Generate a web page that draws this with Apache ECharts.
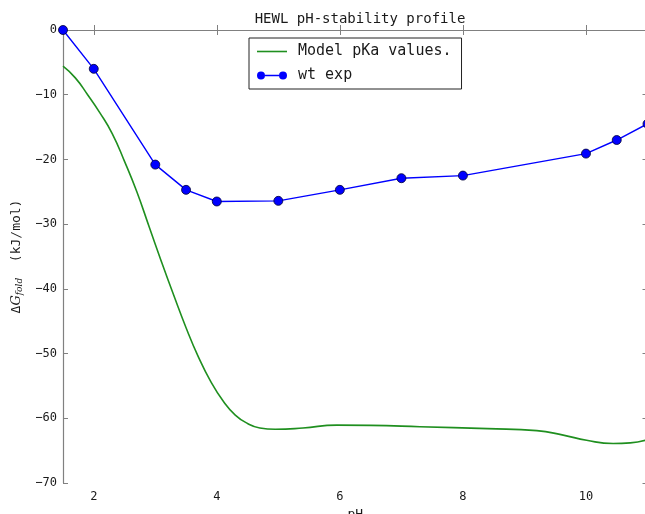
<!DOCTYPE html>
<html>
<head>
<meta charset="utf-8">
<script src="https://cdn.jsdelivr.net/npm/echarts@6/dist/echarts.min.js"></script>
<style>
  html, body { margin: 0; padding: 0; background: #fff; }
  #chart { width: 645px; height: 514px; }
</style>
</head>
<body>
<div id="chart"></div>
<script>
// wt exp measurements (pH, dG)
var expPH = [1.5, 2, 3, 3.5, 4, 5, 6, 7, 8, 10, 10.5, 11];
var expDG = [0, -6, -20.8, -24.7, -26.5, -26.4, -24.7, -22.9, -22.5, -19.1, -17.0, -14.5];

// model pKa curve
var modelPH = [1.5, 1.7, 1.9, 2.1, 2.3, 2.5, 2.7, 2.9, 3.1, 3.3, 3.5, 3.7, 3.9, 4.1, 4.3, 4.5, 4.7, 4.95, 5.4, 5.95, 6.5, 7.3, 8.4, 9.2, 9.63, 10.01, 10.44, 10.72, 11.0];
var modelDG = [-5.6, -7.4, -10.0, -12.8, -16.0, -20.3, -25.0, -30.4, -35.8, -41.0, -46.0, -50.5, -54.3, -57.3, -59.5, -60.8, -61.5, -61.7, -61.5, -61.05, -61.1, -61.3, -61.6, -61.9, -62.6, -63.4, -63.9, -63.8, -63.3];

var xTicks = [2, 4, 6, 8, 10];

var axisGray = '#808080';
var textColor = '#1a1a1a';
var mono = 'DejaVu Sans Mono';

// legend icons: plain line, and line with a marker at each end
var lineIcon = 'path://M0,0L30,0L30,1.6L0,1.6Z';
var markerLineIcon = 'path://M0,4A4,4 0 1,1 8,4A4,4 0 1,1 0,4ZM22,4A4,4 0 1,1 30,4A4,4 0 1,1 22,4ZM8,3.3L22,3.3L22,4.7L8,4.7Z';

function pairs(xs, ys) {
    var out = [];
    for (var i = 0; i < xs.length; i++) out.push([xs[i], ys[i]]);
    return out;
}

var chart = echarts.init(document.getElementById('chart'));

var option = {
    backgroundColor: '#fff',
    animation: false,
    title: {
        text: 'HEWL pH-stability profile',
        left: 355,
        textAlign: 'center',
        top: 7,
        textStyle: { fontFamily: mono, fontSize: 14, fontWeight: 'normal', color: textColor }
    },
    legend: {
        orient: 'vertical',
        left: 249,
        top: 38,
        width: 214,
        padding: [6, 10, 6, 8],
        itemGap: 9,
        itemWidth: 30,
        itemHeight: 14,
        borderColor: '#222',
        borderWidth: 1,
        backgroundColor: '#fff',
        textStyle: { fontFamily: mono, fontSize: 15, color: textColor, padding: [0, 0, 0, 6] },
        data: [
            { name: 'Model pKa values.', icon: lineIcon },
            {
                name: 'wt exp',
                icon: markerLineIcon,
                itemStyle: { color: '#0000ff', borderWidth: 0, opacity: 1 }
            }
        ]
    },
    grid: {
        left: 63,
        top: 30,
        width: 584.5,
        bottom: 31,
        containLabel: false,
        outerBoundsMode: 'none'
    },
    xAxis: [{
        type: 'value',
        min: 1.5,
        max: 11,
        name: 'pH',
        nameLocation: 'middle',
        nameGap: 20,
        nameTextStyle: { fontFamily: mono, fontSize: 13, color: textColor },
        axisLine: { lineStyle: { color: axisGray, width: 1.2 } },
        axisTick: { inside: true, length: 5, customValues: xTicks, lineStyle: { color: axisGray } },
        axisLabel: { customValues: xTicks, margin: 8, fontFamily: mono, fontSize: 12, color: textColor },
        splitLine: { show: false }
    }, {
        type: 'value',
        position: 'top',
        min: 1.5,
        max: 11,
        axisLine: { lineStyle: { color: axisGray, width: 1.2 } },
        axisTick: { inside: true, length: 5, customValues: xTicks, lineStyle: { color: axisGray } },
        axisLabel: { show: false },
        splitLine: { show: false }
    }],
    yAxis: [{
        type: 'value',
        min: -70,
        max: 0,
        interval: 10,
        name: '{d|Δ}{g|G}{s|fold}{d|  (kJ/mol)}',
        nameLocation: 'middle',
        nameGap: 30,
        nameTextStyle: {
            color: textColor,
            rich: {
                d: { fontFamily: mono, fontSize: 13, color: textColor },
                g: { fontFamily: 'DejaVu Serif', fontStyle: 'italic', fontSize: 13, color: textColor },
                s: { fontFamily: 'DejaVu Serif', fontStyle: 'italic', fontSize: 9, color: textColor, padding: [7, 0, 0, 0] }
            }
        },
        axisLine: { show: true, lineStyle: { color: axisGray, width: 1.2 } },
        axisTick: { show: true, inside: true, length: 5, lineStyle: { color: axisGray } },
        axisLabel: {
            margin: 6,
            fontFamily: mono,
            fontSize: 12,
            color: textColor,
            formatter: function (v) { return String(v).replace('-', '\u2212'); }
        },
        splitLine: { show: false }
    }, {
        type: 'value',
        position: 'right',
        min: -70,
        max: 0,
        interval: 10,
        axisLine: { show: true, lineStyle: { color: axisGray, width: 1.2 } },
        axisTick: { show: true, inside: true, length: 5, lineStyle: { color: axisGray } },
        axisLabel: { show: false },
        splitLine: { show: false }
    }],
    series: [{
        name: 'Model pKa values.',
        type: 'line',
        data: pairs(modelPH, modelDG),
        smooth: 0.5,
        showSymbol: false,
        symbol: 'none',
        lineStyle: { color: '#1f8f1f', width: 1.6 },
        itemStyle: { color: '#1f8f1f' }
    }, {
        name: 'wt exp',
        type: 'line',
        data: pairs(expPH, expDG),
        symbol: 'circle',
        symbolSize: 9,
        lineStyle: { color: '#0000ff', width: 1.4 },
        itemStyle: { color: '#0000ff', borderColor: '#000033', borderWidth: 0.8 }
    }]
};

chart.setOption(option);
</script>
</body>
</html>
